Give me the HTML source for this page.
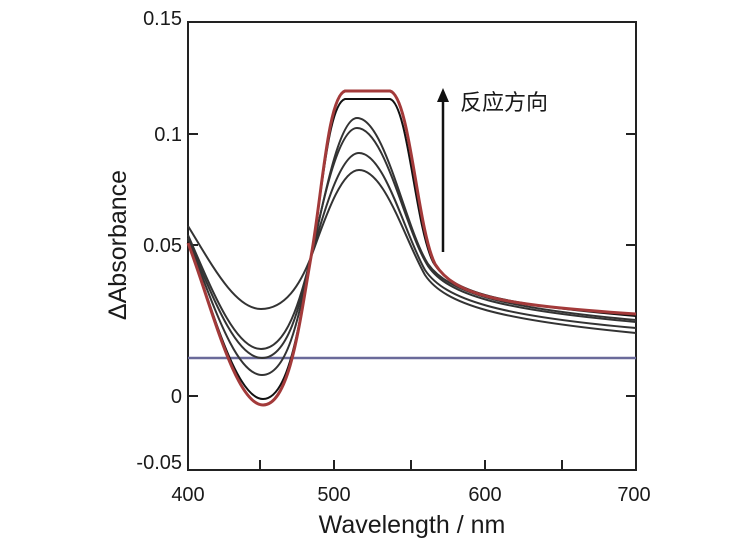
<!DOCTYPE html>
<html><head><meta charset="utf-8"><style>
html,body{margin:0;padding:0;background:#fff;}
svg{display:block;}
text{font-family:"Liberation Sans","Noto Sans CJK SC",sans-serif;fill:#1a1a1a;}
</style></head><body>
<svg width="756" height="546" viewBox="0 0 756 546" xmlns="http://www.w3.org/2000/svg">
<rect x="188" y="22" width="448" height="448" fill="none" stroke="#222" stroke-width="2"/>
<g stroke="#222" stroke-width="2">
<line x1="188" y1="134" x2="198" y2="134"/><line x1="188" y1="245" x2="198" y2="245"/><line x1="188" y1="396" x2="198" y2="396"/>
<line x1="636" y1="134" x2="626" y2="134"/><line x1="636" y1="245" x2="626" y2="245"/><line x1="636" y1="396" x2="626" y2="396"/>
<line x1="260" y1="470" x2="260" y2="460"/><line x1="334" y1="470" x2="334" y2="460"/><line x1="411" y1="470" x2="411" y2="460"/><line x1="485" y1="470" x2="485" y2="460"/><line x1="562" y1="470" x2="562" y2="460"/>
</g>
<line x1="188" y1="358" x2="636" y2="358" stroke="#6a6a9a" stroke-width="2.5"/>
<g fill="none" stroke="#333" stroke-width="2">
<path d="M188,226 C212,265 235,309 261,309 C285,309 300,285 311,257 C323,225 340,170 359,170 C385,170 405,240 425,275 C445,305 500,320 636,333"/>
<path d="M188,235 C212,290 235,349 261,349 C287,349 300,300 311,257 C323,215 340,153 359,153 C385,153 405,235 425,270 C445,300 500,316 636,328"/>
<path d="M188,240 C212,300 235,375 262,375 C289,375 300,310 311,257 C322,205 338,128 357,128 C385,128 405,230 428,266 C448,295 500,310 636,322"/>
<path d="M188,238 C212,295 235,358 262,358 C288,358 300,305 311,257 C322,210 338,118 357,118 C385,118 405,228 428,264 C448,292 500,308 636,320"/>
<path d="M188,242 C210,300 235,399 263,399 C290,399 300,318 311,257 C322,195 328,104 345,99 L390,99 C408,104 415,225 433,262 C452,294 500,304 636,316" stroke="#111"/>
</g>
<path d="M188,243 C210,300 235,405 263,405 C290,405 300,320 311,257 C322,195 328,96 345,91 L390,91 C410,96 417,228 435,264 C455,296 500,305 636,314" fill="none" stroke="#a33a3a" stroke-width="3"/>
<line x1="443" y1="252" x2="443" y2="100" stroke="#111" stroke-width="2.5"/>
<polygon points="437,102 449,102 443,88" fill="#111"/>
<text x="460" y="110" font-size="22">反应方向</text>
<g font-size="20" text-anchor="end">
<text x="182" y="25">0.15</text><text x="182" y="141">0.1</text><text x="182" y="252">0.05</text><text x="182" y="403">0</text><text x="182" y="469">-0.05</text>
</g>
<g font-size="20" text-anchor="middle">
<text x="188" y="501">400</text><text x="334" y="501">500</text><text x="485" y="501">600</text><text x="634" y="501">700</text>
</g>
<text x="412" y="533" font-size="25" text-anchor="middle">Wavelength / nm</text>
<text transform="translate(126,245) rotate(-90)" font-size="25" text-anchor="middle">ΔAbsorbance</text>
</svg>
</body></html>
